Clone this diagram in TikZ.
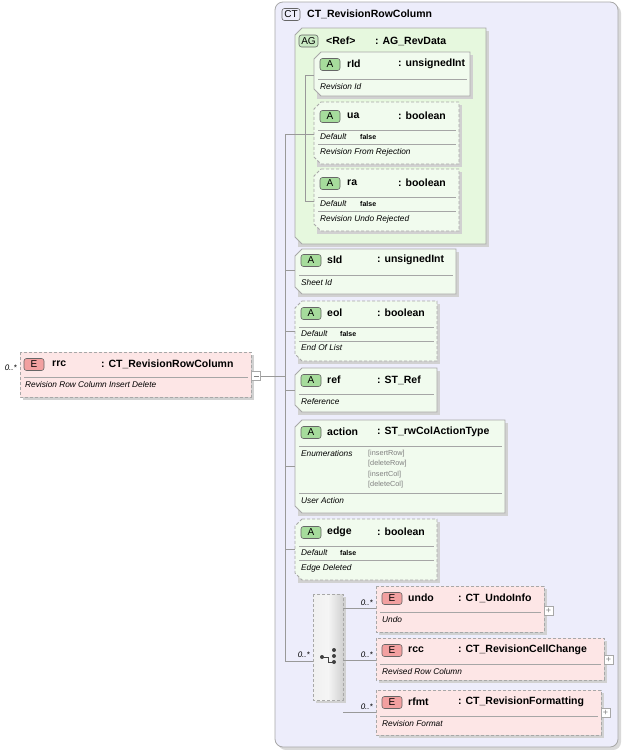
\documentclass[tikz,border=0pt]{standalone}
\usepackage{fontspec}
\setmainfont{Liberation Sans}
\definecolor{ctfill}{HTML}{EDEDFB}
\definecolor{agfill}{HTML}{E6F8DE}
\definecolor{afill}{HTML}{F1FBEE}
\definecolor{efill}{HTML}{FDE6E6}
\definecolor{bord}{HTML}{A8A8A8}
\definecolor{abadge}{HTML}{A6DC9C}
\definecolor{ebadge}{HTML}{F2A0A0}
\tikzset{
  x=1pt,y=-1pt,
  box/.style={draw=bord,line width=0.8pt},
  dbox/.style={box,dash pattern=on 3pt off 2pt},
  sep/.style={draw=gray!70,line width=0.6pt},
  conn/.style={draw=gray!80,line width=0.6pt},
  badge/.style={draw=black!60,rounded corners=2.5pt,line width=0.6pt,minimum width=20pt,minimum height=12pt,inner sep=0pt,font=\fontsize{10}{11}\selectfont},
  nm/.style={anchor=west,inner sep=0pt,font=\fontsize{10.5}{12}\bfseries\selectfont},
  ds/.style={anchor=west,inner sep=0pt,font=\fontsize{8.3}{10}\itshape\selectfont},
  df/.style={anchor=west,inner sep=0pt,font=\fontsize{7}{9}\bfseries\selectfont},
  en/.style={anchor=west,inner sep=0pt,text=gray,font=\fontsize{7.3}{9}\selectfont},
  mult/.style={anchor=east,inner sep=0pt,font=\fontsize{8}{10}\itshape\selectfont},
  pm/.style={draw=bord,fill=white,minimum size=9pt,inner sep=0pt,line width=0.5pt,text=gray,font=\fontsize{9}{9}\selectfont},
}
% chamfered box outline
\newcommand\chbox[5]{\path[#1] (#2+7,#3)--(#4,#3)--(#4,#5)--(#2+7,#5)--(#2,#5-7)--(#2,#3+7)--cycle;}
\newcommand\shad[4]{\fill[black!18] (#1+3,#2+3) rectangle (#3+3,#4+3);}
\begin{document}
\begin{tikzpicture}
\useasboundingbox (0,0) rectangle (622,750);
% complex type
\fill[black!15,rounded corners=8pt] (278,5) rectangle (621,750);
\path[draw=bord,fill=ctfill,rounded corners=8pt,line width=0.8pt] (275,2) rectangle (618,747);
\node[badge,fill=ctfill,minimum width=18pt] (ctb) at (291,14.5) {CT};
\node[nm] (ctn) at (307,14) {CT\_RevisionRowColumn};

% attribute group
\shad{295}{28}{486}{244}
\chbox{box,fill=agfill}{295}{28}{486}{244}
\node[badge,fill=abadge!60,minimum width=19pt] (agb) at (308.5,41) {AG};
\node[nm] (agn) at (326,41) {<Ref>};
\node[nm] (agt) at (375,41) {: AG\_RevData};

% rId
\shad{314}{52}{470}{96}
\chbox{box,fill=afill}{314}{52}{470}{96}
\node[badge,fill=abadge] (b1) at (330,64.5) {A};
\node[nm] at (347,64) {rId};
\node[nm] at (398,64) {: unsignedInt};
\draw[sep] (318,79)--(467,79);
\node[ds] at (320,87) {Revision Id};

% ua
\shad{314}{102}{459}{164}
\chbox{dbox,fill=afill}{314}{102}{459}{164}
\node[badge,fill=abadge] at (330,116.5) {A};
\node[nm] at (347,116) {ua};
\node[nm] at (398,116) {: boolean};
\draw[sep] (318,130)--(456,130);
\node[ds] at (320,137) {Default};
\node[df] at (360,137) {false};
\draw[sep] (318,144)--(456,144);
\node[ds] at (320,152) {Revision From Rejection};

% ra
\shad{314}{169}{459}{231}
\chbox{dbox,fill=afill}{314}{169}{459}{231}
\node[badge,fill=abadge] at (330,183.5) {A};
\node[nm] at (347,183) {ra};
\node[nm] at (398,183) {: boolean};
\draw[sep] (318,197)--(456,197);
\node[ds] at (320,204) {Default};
\node[df] at (360,204) {false};
\draw[sep] (318,211)--(456,211);
\node[ds] at (320,219) {Revision Undo Rejected};

% sId
\shad{295}{249}{456}{294}
\chbox{box,fill=afill}{295}{249}{456}{294}
\node[badge,fill=abadge] at (311,260.5) {A};
\node[nm] at (327,260) {sId};
\node[nm] at (377,260) {: unsignedInt};
\draw[sep] (299,275)--(453,275);
\node[ds] at (301,283) {Sheet Id};

% eol
\shad{295}{301}{437}{361}
\chbox{dbox,fill=afill}{295}{301}{437}{361}
\node[badge,fill=abadge] at (311,313.5) {A};
\node[nm] at (327,313) {eol};
\node[nm] at (377,313) {: boolean};
\draw[sep] (299,327)--(434,327);
\node[ds] at (301,334) {Default};
\node[df] at (340,334) {false};
\draw[sep] (299,341)--(434,341);
\node[ds] at (301,348) {End Of List};

% ref
\shad{295}{368}{437}{412}
\chbox{box,fill=afill}{295}{368}{437}{412}
\node[badge,fill=abadge] at (311,380.5) {A};
\node[nm] at (327,380) {ref};
\node[nm] at (377,380) {: ST\_Ref};
\draw[sep] (299,394)--(434,394);
\node[ds] at (301,402) {Reference};

% action
\shad{295}{420}{505}{513}
\chbox{box,fill=afill}{295}{420}{505}{513}
\node[badge,fill=abadge] at (311,432.5) {A};
\node[nm] at (327,432) {action};
\node[nm] at (377,432) {: ST\_rwColActionType};
\draw[sep] (299,446)--(502,446);
\node[ds] at (301,454) {Enumerations};
\node[en] at (368,454) {[insertRow]};
\node[en] at (368,464) {[deleteRow]};
\node[en] at (368,475) {[insertCol]};
\node[en] at (368,485) {[deleteCol]};
\draw[sep] (299,493)--(502,493);
\node[ds] at (301,501) {User Action};

% edge
\shad{295}{519}{437}{580}
\chbox{dbox,fill=afill}{295}{519}{437}{580}
\node[badge,fill=abadge] at (311,532.5) {A};
\node[nm] at (327,532) {edge};
\node[nm] at (377,532) {: boolean};
\draw[sep] (299,546)--(434,546);
\node[ds] at (301,553) {Default};
\node[df] at (340,553) {false};
\draw[sep] (299,560)--(434,560);
\node[ds] at (301,568) {Edge Deleted};

% choice compositor
\shad{313}{594}{343}{700}
\path[dbox,left color=black!6,right color=black!18,middle color=black!4] (313,594) rectangle (343,700);
\node[inner sep=0pt,minimum size=2pt] (ch) at (328,655) {};
\fill[black!75] (322,657) circle (2pt);
\draw[black!75,line width=0.8pt] (322,657)--(328,657) (328,657)--(328,662)--(334,662);
\foreach \yy in {650,656,662} \fill[black!75] (334,\yy) circle (2pt);

% undo
\shad{376}{586}{544}{632}
\path[dbox,fill=efill] (376,586) rectangle (544,632);
\node[badge,fill=ebadge] at (392,598.5) {E};
\node[nm] at (408,598) {undo};
\node[nm] at (458,598) {: CT\_UndoInfo};
\draw[sep] (380,612)--(541,612);
\node[ds] at (382,620) {Undo};
\node[pm] at (548.5,610.5) {+};

% rcc
\shad{376}{638}{604}{680}
\path[dbox,fill=efill] (376,638) rectangle (604,680);
\node[badge,fill=ebadge] at (392,650.5) {E};
\node[nm] at (408,650) {rcc};
\node[nm] at (458,650) {: CT\_RevisionCellChange};
\draw[sep] (380,664)--(601,664);
\node[ds] at (382,672) {Revised Row Column};
\node[pm] at (608.5,659.5) {+};

% rfmt
\shad{376}{690}{601}{735}
\path[dbox,fill=efill] (376,690) rectangle (601,735);
\node[badge,fill=ebadge] at (392,702.5) {E};
\node[nm] at (408,702) {rfmt};
\node[nm] at (458,702) {: CT\_RevisionFormatting};
\draw[sep] (380,716)--(598,716);
\node[ds] at (382,724) {Revision Format};
\node[pm] at (605.5,712.5) {+};

% root element rrc
\shad{20}{352}{251}{397}
\path[dbox,fill=efill] (20,352) rectangle (251,397);
\node[badge,fill=ebadge] at (34,364.5) {E};
\node[nm] at (52,364) {rrc};
\node[nm] at (101,364) {: CT\_RevisionRowColumn};
\draw[sep] (24,377)--(248,377);
\node[ds] at (25,385) {Revision Row Column Insert Delete};
\node[mult] at (17,368) {0..*};
\node[pm] (minus) at (256,376) {};
\draw[gray,line width=0.5pt] (253.5,376)--(258.5,376);

% connectors
\coordinate (tr) at (285,376);
\draw[conn] (minus.east)--(tr);
\draw[conn] (285,134)--(285,655);
\draw[conn] (285,134)--(305,134);
\draw[conn] (305,75)--(305,201);
\foreach \yy in {75,134,201} \draw[conn] (305,\yy)--(314,\yy);
\foreach \yy in {270,331,390,466,549} \draw[conn] (285,\yy)--(295,\yy);
\draw[conn] (285,661)--(313,661);
\draw[conn] (285,655)--(285,661);
\node[mult] at (310,655) {0..*};
\foreach \yy in {608,660,712} {
  \draw[conn] (343,\yy)--(376,\yy);
  \node[mult] at (373,\yy-5) {0..*};
}
\end{tikzpicture}
\end{document}
